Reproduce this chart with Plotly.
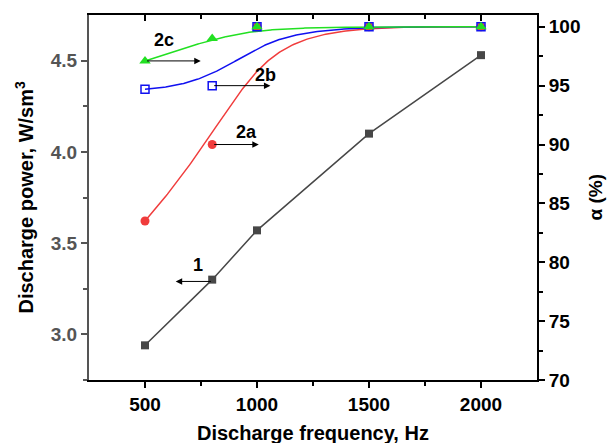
import numpy as np
import plotly.graph_objects as go

# ---- data ----
freq = [500, 800, 1000, 1500, 2000]
power_1 = [2.94, 3.30, 3.57, 4.10, 4.53]        # curve 1, left axis
alpha_2a = [83.5, 90.0, 100.0, 100.0, 100.0]   # curve 2a, right axis
alpha_2b = [94.7, 95.0, 100.0, 100.0, 100.0]   # curve 2b
alpha_2c = [97.1, 99.0, 100.0, 100.0, 100.0]   # curve 2c

x_ticks = [500, 1000, 1500, 2000]
yl_ticks = [3.0, 3.5, 4.0, 4.5]
yl_text = ["3.0", "3.5", "4.0", "4.5"]
yr_ticks = [70, 75, 80, 85, 90, 95, 100]

FONT = "Liberation Sans, Arial, sans-serif"
TS = 19


def bspline(xs, ys, n=200):
    """Clamped cubic B-spline using the data points as control points (Origin 'B-Spline' connector)."""
    P = np.column_stack([xs, ys]).astype(float)
    k = 3
    m = len(P)
    inner = np.linspace(0, 1, m - k + 1)
    knots = np.concatenate([[0] * k, inner, [1] * k])
    ts = np.linspace(0, 1, n)
    out = []
    for t in ts:
        if t >= 1:
            out.append(P[-1])
            continue
        j = np.searchsorted(knots, t, side="right") - 1
        d = [P[i].copy() for i in range(j - k, j + 1)]
        for r in range(1, k + 1):
            for i in range(k, r - 1, -1):
                idx = i + j - k
                a = (t - knots[idx]) / (knots[idx + k - r + 1] - knots[idx])
                d[i] = (1 - a) * d[i - 1] + a * d[i]
        out.append(d[k])
    out = np.array(out)
    return out[:, 0], out[:, 1]


fig = go.Figure()

fig.add_trace(go.Scatter(x=freq, y=power_1, mode="lines+markers",
                         line=dict(color="#474747", width=1.5),
                         marker=dict(symbol="square", size=8, color="#474747"),
                         yaxis="y", showlegend=False))

series = [
    (alpha_2a, "#f03c3c", dict(symbol="circle", size=9, color="#f03c3c")),
    (alpha_2b, "#1010f0", dict(symbol="square-open", size=8, color="#1010f0", line=dict(width=1.5))),
    (alpha_2c, "#22e022", dict(symbol="triangle-up", size=10, color="#22e022")),
]
for vals, col, mk in series:
    sx, sy = bspline(freq, vals)
    fig.add_trace(go.Scatter(x=sx, y=sy, mode="lines", line=dict(color=col, width=1.5),
                             yaxis="y2", showlegend=False, hoverinfo="skip"))
for vals, col, mk in series:
    fig.add_trace(go.Scatter(x=freq, y=vals, mode="markers", marker=mk,
                             yaxis="y2", showlegend=False))

fig.add_trace(go.Scatter(x=[1000], y=[3.5], xaxis="x2", yaxis="y", mode="markers",
                         marker=dict(opacity=0), showlegend=False, hoverinfo="skip"))

fig.update_layout(
    width=608, height=443,
    margin=dict(l=89, r=71, t=15, b=63),
    paper_bgcolor="white", plot_bgcolor="white",
    font=dict(family=FONT, size=TS, color="black"),
    xaxis=dict(range=[250, 2250], tickvals=x_ticks, ticktext=["<b>%d</b>" % v for v in x_ticks],
               ticks="outside", ticklen=6, tickwidth=2,
               showline=True, linecolor="black", linewidth=2, showgrid=False, zeroline=False,
               tickfont=dict(family=FONT, size=TS, color="black"),
               minor=dict(tickvals=[750, 1250, 1750], ticks="outside", ticklen=4, tickwidth=2, tickcolor="black"),
               tickcolor="black", anchor="y"),
    xaxis2=dict(range=[250, 2250], overlaying="x", side="top", anchor="y",
                tickvals=x_ticks, ticks="inside", ticklen=6, tickwidth=2, tickcolor="black",
                showticklabels=False, showline=True, linecolor="black", linewidth=2,
                minor=dict(tickvals=[750, 1250, 1750], ticks="inside", ticklen=4, tickwidth=2, tickcolor="black"),
                showgrid=False, zeroline=False),
    yaxis=dict(range=[2.75, 4.75], tickvals=yl_ticks, ticktext=["<b>%s</b>" % t for t in yl_text],
               ticks="outside", ticklen=6, tickwidth=2, tickcolor="#555555",
               showline=True, linecolor="#555555", linewidth=2, showgrid=False, zeroline=False,
               tickfont=dict(family=FONT, size=TS, color="#555555"),
               minor=dict(tickvals=[2.75, 3.25, 3.75, 4.25], ticks="outside", ticklen=4, tickwidth=2, tickcolor="#555555")),
    yaxis2=dict(range=[70, 101], overlaying="y", side="right", anchor="x",
                tickvals=yr_ticks, ticktext=["<b>%d</b>" % v for v in yr_ticks],
                ticks="outside", ticklen=6, tickwidth=2, tickcolor="black",
                showline=True, linecolor="black", linewidth=2, showgrid=False, zeroline=False,
                tickfont=dict(family=FONT, size=TS, color="black"),
                minor=dict(tickvals=[72.5, 77.5, 82.5, 87.5, 92.5, 97.5], ticks="outside", ticklen=4, tickwidth=2, tickcolor="black")),
)

fig.add_annotation(text="<b>Discharge frequency, Hz</b>", xref="paper", yref="paper",
                   x=0.5, y=0, yshift=-53, showarrow=False, font=dict(size=20, family=FONT),
                   xanchor="center", yanchor="middle")
fig.add_annotation(text="<b>Discharge power, W/sm<sup>3</sup></b>", xref="paper", yref="paper",
                   x=0, y=0.5, xshift=-65, showarrow=False, textangle=-90,
                   font=dict(size=20, family=FONT), xanchor="center", yanchor="middle")
fig.add_annotation(text="<b>α (%)</b>", xref="paper", yref="paper",
                   x=1, y=0.5, xshift=58, showarrow=False, textangle=-90,
                   font=dict(size=19, family=FONT), xanchor="center", yanchor="middle")

arrows = [
    (637, 3.29, 803, 3.29, "y"),
    (1008, 90.0, 800, 90.0, "y2"),
    (1060, 95.0, 800, 95.0, "y2"),
    (749, 97.1, 500, 97.1, "y2"),
]
for hx, hy, tx, ty, yr in arrows:
    fig.add_annotation(x=hx, y=hy, ax=tx, ay=ty, xref="x", yref=yr, axref="x", ayref=yr,
                       text=" ", showarrow=True, arrowhead=2, arrowsize=1.3, arrowwidth=1,
                       arrowcolor="black", standoff=0, startstandoff=0, font=dict(size=2))

labels = [
    ("1", 736, 3.38, "y"),
    ("2a", 954, 91.1, "y2"),
    ("2b", 1038, 95.9, "y2"),
    ("2c", 584, 98.9, "y2"),
]
for t, lx, ly, yr in labels:
    fig.add_annotation(text="<b>%s</b>" % t, x=lx, y=ly, xref="x", yref=yr, showarrow=False,
                       font=dict(size=18, family=FONT, color="black"))

fig.write_html("out.html")
